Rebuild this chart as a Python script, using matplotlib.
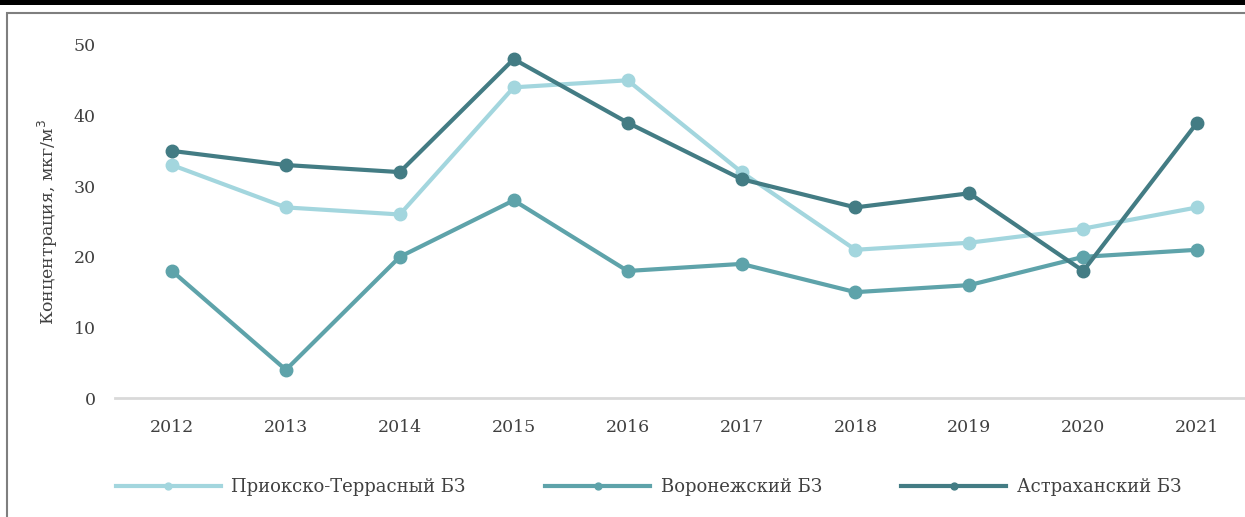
import numpy as np
import matplotlib
matplotlib.use("Agg")
import matplotlib.pyplot as plt
from matplotlib.patches import Rectangle

years = ["2012", "2013", "2014", "2015", "2016", "2017", "2018", "2019", "2020", "2021"]
prioksko = [33, 27, 26, 44, 45, 32, 21, 22, 24, 27]
voronezh = [18, 4, 20, 28, 18, 19, 15, 16, 20, 21]
astrakhan = [35, 33, 32, 48, 39, 31, 27, 29, 18, 39]
names = ["Приокско-Террасный БЗ", "Воронежский БЗ", "Астраханский БЗ"]
colors = ["#a3d6de", "#5ea3aa", "#437c84"]

plt.rcParams["font.family"] = ["DejaVu Serif"]
TEXT = "#404040"

fig = plt.figure(figsize=(12.45, 5.17), dpi=100)

# black strip on top and grey frame
fig.patches.append(Rectangle((0, 0.990), 1, 0.012, transform=fig.transFigure,
                             facecolor="black", edgecolor="none", zorder=0))
fig.patches.append(Rectangle((0.0055, -0.02), 1.1, 0.994,
                             transform=fig.transFigure, facecolor="none",
                             edgecolor="#7f7f7f", linewidth=1.5, zorder=0))

ax = fig.add_axes([0.0924, 0.230, 0.9076, 0.683])
x = np.arange(len(years))
for vals, name, c in zip([prioksko, voronezh, astrakhan], names, colors):
    ax.plot(x, vals, color=c, linewidth=3, marker="o", markersize=9,
            solid_joinstyle="round", label=name)

ax.set_xlim(-0.5, 9.42)
ax.set_ylim(0, 50)
ax.set_xticks(x)
ax.set_xticklabels(years)
ax.set_yticks(range(0, 51, 10))
ax.tick_params(length=0, labelsize=12.5, colors=TEXT, pad=15)
ax.tick_params(axis="y", pad=14)
for s in ["top", "right", "left"]:
    ax.spines[s].set_visible(False)
ax.spines["bottom"].set_color("#d9d9d9")
ax.spines["bottom"].set_linewidth(2)
ax.set_ylabel("Концентрация, мкг/м$^3$", fontsize=12.5, color=TEXT, labelpad=10)

handles, labels = ax.get_legend_handles_labels()
fig.legend(handles, labels, loc="center", bbox_to_anchor=(0.521, 0.058), ncol=3,
           frameon=False, fontsize=13, handlelength=5.8, columnspacing=4.4,
           handletextpad=0.6, markerscale=0.55, labelcolor=TEXT)

fig.savefig("out.png", dpi=100)
